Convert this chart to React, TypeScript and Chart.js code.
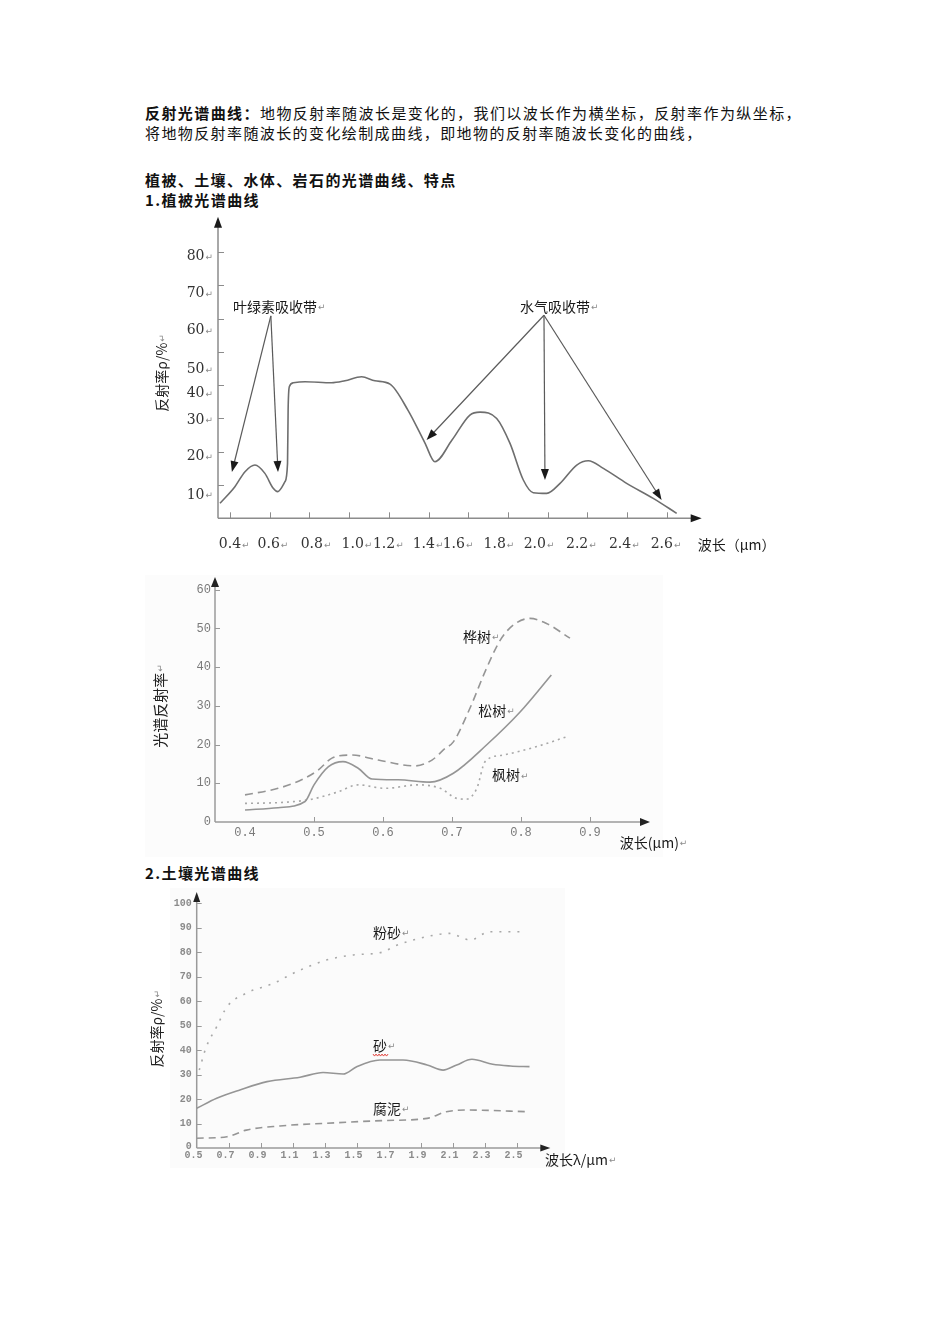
import React, { useEffect, useRef } from "react";
import { Chart, registerables } from "chart.js";
Chart.register(...registerables);

// ---------------- Chart 1: 植被光谱曲线 ----------------
const vegWave = [0.35, 0.425, 0.476, 0.526, 0.576, 0.618, 0.64, 0.677, 0.69, 0.693, 0.699, 0.719, 0.778, 0.912, 0.979, 1.063, 1.13, 1.206, 1.296, 1.382, 1.432, 1.518, 1.608, 1.659, 1.743, 1.81, 1.877, 1.927, 1.995, 2.062, 2.146, 2.204, 2.28, 2.397, 2.531, 2.649];
const vegRefl = [4.5, 9.5, 14.0, 16.0, 13.5, 9.0, 8.0, 11.0, 16.5, 32.5, 39.5, 40.7, 41.0, 40.7, 41.3, 42.5, 41.3, 40.3, 32.5, 22.6, 17.0, 23.5, 31.0, 31.9, 30.0, 22.5, 11.5, 7.7, 7.5, 10.5, 16.0, 17.3, 15.0, 10.5, 6.0, 1.5];
const vegYTicks = [10, 20, 30, 40, 50, 60, 70, 80];
const vegYLabels = ["10", "20", "30", "40", "50", "60", "70", "80"];
const vegYLabelPos = [7.0, 18.5, 29.5, 37.5, 44.7, 56.5, 67.6, 78.6];
const vegXTicks = [0.4, 0.6, 0.8, 1.0, 1.2, 1.4, 1.6, 1.8, 2.0, 2.2, 2.4, 2.6];
const vegXLabels = ["0.4", "0.6", "0.8", "1.0", "1.2", "1.4", "1.6", "1.8", "2.0", "2.2", "2.4", "2.6"];
const vegXLabelPos = [0.4, 0.595, 0.812, 1.018, 1.176, 1.376, 1.527, 1.733, 1.935, 2.148, 2.364, 2.574];
const chloroLabel = "叶绿素吸收带";
const chloroLabelAt = [0.415, 63.5];
const chloroApex = [0.606, 60.8];
const chloroTipX = [0.41, 0.642];
const chloroTipY = [13.9, 13.9];
const waterLabel = "水气吸收带";
const waterLabelAt = [1.86, 63.5];
const waterApex = [1.981, 61.0];
const waterTipX = [1.39, 1.986, 2.573];
const waterTipY = [23.5, 11.5, 5.5];

// ---------------- Chart 2: 树种光谱曲线 ----------------
const birchWave = [0.4, 0.448, 0.482, 0.506, 0.526, 0.555, 0.593, 0.646, 0.671, 0.69, 0.702, 0.726, 0.75, 0.77, 0.789, 0.813, 0.837, 0.871];
const birchRefl = [7.0, 8.7, 10.9, 13.4, 16.5, 17.3, 16.0, 14.5, 16.0, 19.0, 20.7, 29.4, 39.7, 47.0, 50.9, 52.6, 51.3, 47.5];
const pineWave = [0.4, 0.448, 0.487, 0.5, 0.521, 0.542, 0.564, 0.584, 0.622, 0.668, 0.702, 0.75, 0.799, 0.844];
const pineRefl = [3.1, 3.7, 5.3, 9.6, 14.3, 15.6, 13.9, 11.1, 10.9, 10.3, 12.6, 19.9, 28.5, 38.0];
const mapleWave = [0.4, 0.458, 0.497, 0.535, 0.564, 0.603, 0.651, 0.683, 0.707, 0.721, 0.736, 0.748, 0.774, 0.823, 0.866];
const mapleRefl = [4.8, 5.1, 5.9, 7.8, 9.6, 8.7, 9.6, 8.7, 6.1, 5.9, 8.7, 15.6, 17.3, 19.5, 22.0];
const treeYTicks = [10, 20, 30, 40, 50, 60];
const treeYLabels = ["0", "10", "20", "30", "40", "50", "60"];
const treeYLabelPos = [0, 10, 20, 30, 40, 50, 60];
const treeXTicks = [0.5, 0.6, 0.7, 0.8, 0.9];
const treeXLabels = ["0.4", "0.5", "0.6", "0.7", "0.8", "0.9"];
const treeXLabelPos = [0.4, 0.5, 0.6, 0.7, 0.8, 0.9];
const treeNames = ["桦树", "松树", "枫树"];
const treeNameX = [0.716, 0.738, 0.758];
const treeNameY = [47.8, 28.7, 12.1];

// ---------------- Chart 3: 土壤光谱曲线 ----------------
const siltWave = [0.516, 0.56, 0.625, 0.69, 0.81, 0.98, 1.125, 1.31, 1.48, 1.67, 1.73, 1.94, 2.08, 2.21, 2.33, 2.54];
const siltRefl = [31.8, 41.3, 49.5, 57.7, 63.2, 67.2, 72.0, 76.7, 78.8, 80.1, 82.2, 86.3, 87.6, 84.9, 88.3, 88.3];
const sandWave = [0.5, 0.625, 0.77, 0.94, 1.146, 1.29, 1.416, 1.5, 1.645, 1.79, 1.94, 2.04, 2.125, 2.22, 2.35, 2.46, 2.58];
const sandRefl = [16.2, 20.3, 23.7, 27.1, 28.9, 30.8, 30.2, 33.2, 35.9, 35.9, 33.9, 31.8, 33.9, 36.2, 34.2, 33.5, 33.2];
const humusWave = [0.5, 0.69, 0.81, 1.02, 1.31, 1.67, 1.94, 2.06, 2.19, 2.58];
const humusRefl = [4.0, 4.6, 7.3, 9.0, 10.1, 11.2, 12.1, 14.8, 15.5, 14.8];
const soilYTicks = [10, 20, 30, 40, 50, 60, 70, 80, 90, 100];
const soilYLabels = ["0", "10", "20", "30", "40", "50", "60", "70", "80", "90", "100"];
const soilYLabelPos = [0.8, 10, 20, 30, 40, 50, 60, 70, 80, 90, 100];
const soilXTicks = [0.7, 0.9, 1.1, 1.3, 1.5, 1.7, 1.9, 2.1, 2.3, 2.5];
const soilXLabels = ["0.5", "0.7", "0.9", "1.1", "1.3", "1.5", "1.7", "1.9", "2.1", "2.3", "2.5"];
const soilXLabelPos = [0.48, 0.68, 0.88, 1.08, 1.28, 1.48, 1.68, 1.88, 2.08, 2.28, 2.48];
const soilNames = ["粉砂", "砂", "腐泥"];
const soilNameX = [1.602, 1.602, 1.602];
const soilNameY = [87.8, 41.6, 15.9];

const CJK = '"Noto Sans CJK SC", "Noto Sans", sans-serif';
const MARK_FONT = '9px "DejaVu Sans"';

type Ctx = CanvasRenderingContext2D;

function head(ctx: Ctx, x1: number, y1: number, x2: number, y2: number, len: number, half: number, color: string) {
  const a = Math.atan2(y2 - y1, x2 - x1);
  const bx = x2 - len * Math.cos(a);
  const by = y2 - len * Math.sin(a);
  ctx.beginPath();
  ctx.moveTo(x2, y2);
  ctx.lineTo(bx + half * Math.sin(a), by - half * Math.cos(a));
  ctx.lineTo(bx - half * Math.sin(a), by + half * Math.cos(a));
  ctx.closePath();
  ctx.fillStyle = color;
  ctx.fill();
}

function markedText(ctx: Ctx, text: string, x: number, y: number, font: string, color: string, align: "left" | "right" | "center", mark = true) {
  ctx.save();
  ctx.textBaseline = "middle";
  ctx.font = font;
  const w = ctx.measureText(text).width;
  ctx.font = MARK_FONT;
  const mw = mark ? ctx.measureText("↵").width + 1 : 0;
  let sx = x;
  if (align === "right") sx = x - w - mw;
  else if (align === "center") sx = x - w / 2;
  ctx.textAlign = "left";
  ctx.font = font;
  ctx.fillStyle = color;
  ctx.fillText(text, sx, y);
  if (mark) {
    ctx.font = MARK_FONT;
    ctx.fillStyle = "#8a8a8a";
    ctx.fillText("↵", sx + w + 1, y + 1);
  }
  ctx.restore();
}

interface AxisOpt {
  color: string;
  width: number;
  arrow: string;
  len: number;
  half: number;
  xTicks: number[];
  yTicks: number[];
  tick: number;
}

function drawAxes(c: any, ctx: Ctx, o: AxisOpt) {
  const xs = c.scales.x;
  const ys = c.scales.y;
  const x0 = xs.getPixelForValue(xs.min);
  const x1 = xs.getPixelForValue(xs.max);
  const y0 = ys.getPixelForValue(ys.min);
  const y1 = ys.getPixelForValue(ys.max);
  ctx.save();
  ctx.strokeStyle = o.color;
  ctx.lineWidth = o.width;
  ctx.beginPath();
  ctx.moveTo(x0, y0);
  ctx.lineTo(x1 - o.len + 1, y0);
  ctx.moveTo(x0, y0);
  ctx.lineTo(x0, y1 + o.len - 1);
  ctx.stroke();
  ctx.lineWidth = 1;
  ctx.beginPath();
  for (const v of o.yTicks) {
    const p = Math.round(ys.getPixelForValue(v)) + 0.5;
    ctx.moveTo(x0, p);
    ctx.lineTo(x0 + o.tick, p);
  }
  for (const v of o.xTicks) {
    const p = Math.round(xs.getPixelForValue(v)) + 0.5;
    ctx.moveTo(p, y0);
    ctx.lineTo(p, y0 - o.tick);
  }
  ctx.stroke();
  head(ctx, x0, y0, x1, y0, o.len, o.half, o.arrow);
  head(ctx, x0, y0, x0, y1, o.len, o.half, o.arrow);
  ctx.restore();
}

function rotatedTitle(ctx: Ctx, text: string, x: number, y: number, font: string) {
  ctx.save();
  ctx.translate(x, y);
  ctx.rotate(-Math.PI / 2);
  markedText(ctx, text, 0, 0, font, "#222", "center", true);
  ctx.restore();
}

function series(xs: number[], ys: number[], color: string, width: number, dash: number[]) {
  return {
    data: xs.map((x, i) => ({ x, y: ys[i] })),
    borderColor: color,
    borderWidth: width,
    borderDash: dash,
    cubicInterpolationMode: "monotone",
    fill: false,
    pointRadius: 0,
    clip: false,
  };
}

// ---------- decorations ----------
function decoVeg(c: any, ctx: Ctx) {
  const xs = c.scales.x;
  const ys = c.scales.y;
  drawAxes(c, ctx, { color: "#8c8c8c", width: 1.5, arrow: "#1a1a1a", len: 11, half: 4, xTicks: vegXTicks, yTicks: vegYTicks, tick: 6 });
  const ax = xs.getPixelForValue(xs.min);
  const ay = ys.getPixelForValue(ys.min);
  const numFont = '14px "DejaVu Serif"';
  vegYLabels.forEach((t, i) => markedText(ctx, t, ax - 5, ys.getPixelForValue(vegYLabelPos[i]), numFont, "#333", "right"));
  vegXLabels.forEach((t, i) => markedText(ctx, t, xs.getPixelForValue(vegXLabelPos[i]), ay + 26, numFont, "#333", "center"));
  const arrows = (apex: number[], tx: number[], ty: number[]) => {
    const px = xs.getPixelForValue(apex[0]);
    const py = ys.getPixelForValue(apex[1]);
    tx.forEach((v, i) => {
      const qx = xs.getPixelForValue(v);
      const qy = ys.getPixelForValue(ty[i]);
      ctx.save();
      ctx.strokeStyle = "#5a5a5a";
      ctx.lineWidth = 1.2;
      ctx.beginPath();
      ctx.moveTo(px, py);
      const a = Math.atan2(qy - py, qx - px);
      ctx.lineTo(qx - 8 * Math.cos(a), qy - 8 * Math.sin(a));
      ctx.stroke();
      head(ctx, px, py, qx, qy, 11, 4, "#1a1a1a");
      ctx.restore();
    });
  };
  arrows(chloroApex, chloroTipX, chloroTipY);
  arrows(waterApex, waterTipX, waterTipY);
  const lf = `14px ${CJK}`;
  markedText(ctx, chloroLabel, xs.getPixelForValue(chloroLabelAt[0]), ys.getPixelForValue(chloroLabelAt[1]), lf, "#1a1a1a", "left");
  markedText(ctx, waterLabel, xs.getPixelForValue(waterLabelAt[0]), ys.getPixelForValue(waterLabelAt[1]), lf, "#1a1a1a", "left");
  rotatedTitle(ctx, "反射率ρ/%", ax - 56, ys.getPixelForValue(42.4), `14px ${CJK}`);
  markedText(ctx, "波长（μm）", xs.getPixelForValue(xs.max) - 4, ay + 26, `14px ${CJK}`, "#1a1a1a", "left", false);
}

function decoTree(c: any, ctx: Ctx) {
  const xs = c.scales.x;
  const ys = c.scales.y;
  drawAxes(c, ctx, { color: "#9a9a9a", width: 1.5, arrow: "#222", len: 10, half: 4, xTicks: treeXTicks, yTicks: treeYTicks, tick: 5 });
  const ax = xs.getPixelForValue(xs.min);
  const ay = ys.getPixelForValue(ys.min);
  const nf = '12px "Liberation Mono"';
  treeYLabels.forEach((t, i) => markedText(ctx, t, ax - 4, ys.getPixelForValue(treeYLabelPos[i]), nf, "#7a7a7a", "right", false));
  treeXLabels.forEach((t, i) => markedText(ctx, t, xs.getPixelForValue(treeXLabelPos[i]), ay + 11, nf, "#7a7a7a", "center", false));
  const lf = `14px ${CJK}`;
  treeNames.forEach((t, i) => markedText(ctx, t, xs.getPixelForValue(treeNameX[i]), ys.getPixelForValue(treeNameY[i]), lf, "#1a1a1a", "left"));
  rotatedTitle(ctx, "光谱反射率", ax - 55, ys.getPixelForValue(28.9), `15px ${CJK}`);
  markedText(ctx, "波长(μm)", xs.getPixelForValue(0.943), ay + 21, lf, "#1a1a1a", "left");
}

function decoSoil(c: any, ctx: Ctx) {
  const xs = c.scales.x;
  const ys = c.scales.y;
  drawAxes(c, ctx, { color: "#9a9a9a", width: 1.5, arrow: "#222", len: 10, half: 3.5, xTicks: soilXTicks, yTicks: soilYTicks, tick: 5 });
  const ax = xs.getPixelForValue(xs.min);
  const ay = ys.getPixelForValue(ys.min);
  const nf = 'bold 10px "Liberation Mono"';
  soilYLabels.forEach((t, i) => markedText(ctx, t, ax - 5, ys.getPixelForValue(soilYLabelPos[i]), nf, "#8a8a8a", "right", false));
  soilXLabels.forEach((t, i) => markedText(ctx, t, xs.getPixelForValue(soilXLabelPos[i]), ay + 7, nf, "#8a8a8a", "center", false));
  const lf = `14px ${CJK}`;
  soilNames.forEach((t, i) => markedText(ctx, t, xs.getPixelForValue(soilNameX[i]), ys.getPixelForValue(soilNameY[i]), lf, "#1a1a1a", "left"));
  const sx = xs.getPixelForValue(soilNameX[1]);
  const sy = ys.getPixelForValue(soilNameY[1]) + 9;
  ctx.save();
  ctx.strokeStyle = "#e0403a";
  ctx.lineWidth = 1;
  ctx.beginPath();
  for (let k = 0; k <= 10; k++) {
    const px = sx + k * 1.5;
    const py = sy + (k % 2 === 0 ? -1 : 1);
    if (k === 0) ctx.moveTo(px, py);
    else ctx.lineTo(px, py);
  }
  ctx.stroke();
  ctx.restore();
  rotatedTitle(ctx, "反射率ρ/%", ax - 40, ys.getPixelForValue(46.9), `14px ${CJK}`);
  markedText(ctx, "波长λ/μm", xs.getPixelForValue(2.677), ay + 12, lf, "#1a1a1a", "left");
}

interface Spec {
  left: number;
  top: number;
  width: number;
  height: number;
  xr: number[];
  yr: number[];
  pad: { left: number; right: number; top: number; bottom: number };
  datasets: any[];
  deco: (c: any, ctx: Ctx) => void;
}

function ChartBox({ spec }: { spec: Spec }) {
  const ref = useRef<HTMLCanvasElement | null>(null);
  useEffect(() => {
    if (!ref.current) return;
    const chart = new Chart(ref.current, {
      type: "line",
      data: { datasets: spec.datasets },
      options: {
        animation: false,
        responsive: false,
        maintainAspectRatio: false,
        layout: { padding: spec.pad },
        scales: {
          x: { type: "linear", min: spec.xr[0], max: spec.xr[1], display: false },
          y: { type: "linear", min: spec.yr[0], max: spec.yr[1], display: false },
        },
        plugins: { legend: { display: false }, tooltip: { enabled: false } },
        elements: { point: { radius: 0 } },
      },
      plugins: [{ id: "deco", afterDraw: (c: any) => spec.deco(c, c.ctx) }],
    } as any);
    return () => chart.destroy();
  }, [spec]);
  return (
    <canvas
      ref={ref}
      width={spec.width}
      height={spec.height}
      style={{ position: "absolute", left: spec.left, top: spec.top, width: spec.width, height: spec.height }}
    />
  );
}

const vegSpec: Spec = {
  left: 140, top: 205, width: 660, height: 355,
  xr: [0.34, 2.775], yr: [0, 90.6],
  pad: { left: 78, right: 98.3, top: 11.7, bottom: 41.7 },
  datasets: [series(vegWave, vegRefl, "#6e6e6e", 1.6, [])],
  deco: decoVeg,
};

const treeSpec: Spec = {
  left: 140, top: 565, width: 570, height: 295,
  xr: [0.3565, 0.987], yr: [0, 63.3],
  pad: { left: 75, right: 60, top: 12, bottom: 38 },
  datasets: [
    series(birchWave, birchRefl, "#959595", 1.6, [8, 5]),
    series(pineWave, pineRefl, "#959595", 1.6, []),
    series(mapleWave, mapleRefl, "#a8a8a8", 1.6, [2, 4]),
  ],
  deco: decoTree,
};

const soilSpec: Spec = {
  left: 135, top: 880, width: 510, height: 295,
  xr: [0.5, 2.71], yr: [0, 104.5],
  pad: { left: 61.7, right: 94.7, top: 12, bottom: 27 },
  datasets: [
    series(siltWave, siltRefl, "#a8a8a8", 1.6, [2, 7]),
    series(sandWave, sandRefl, "#959595", 1.6, []),
    series(humusWave, humusRefl, "#959595", 1.6, [7, 5]),
  ],
  deco: decoSoil,
};

const textBase: React.CSSProperties = {
  position: "absolute",
  left: 145,
  fontFamily: CJK,
  fontSize: 15,
  lineHeight: "20px",
  color: "#111",
  letterSpacing: "1.4px",
  whiteSpace: "nowrap",
};

export default function App() {
  return (
    <div style={{ width: 934, height: 1328, background: "#fff" }}>
      <div style={{ position: "absolute", left: 145, top: 575, width: 518, height: 282, background: "#fcfcfc" }} />
      <div style={{ position: "absolute", left: 170, top: 888, width: 395, height: 280, background: "#fbfbfb" }} />
      <div style={{ ...textBase, top: 103, width: 657, whiteSpace: "normal", textAlign: "justify", textAlignLast: "justify" as any }}>
        <b>反射光谱曲线：</b>地物反射率随波长是变化的，我们以波长作为横坐标，反射率作为纵坐标，
      </div>
      <div style={{ ...textBase, top: 123 }}>将地物反射率随波长的变化绘制成曲线，即地物的反射率随波长变化的曲线，</div>
      <div style={{ ...textBase, top: 170, fontWeight: 700 }}>植被、土壤、水体、岩石的光谱曲线、特点</div>
      <div style={{ ...textBase, top: 190, fontWeight: 700 }}>1.植被光谱曲线</div>
      <div style={{ ...textBase, top: 863, fontWeight: 700 }}>2.土壤光谱曲线</div>
      <ChartBox spec={vegSpec} />
      <ChartBox spec={treeSpec} />
      <ChartBox spec={soilSpec} />
    </div>
  );
}
